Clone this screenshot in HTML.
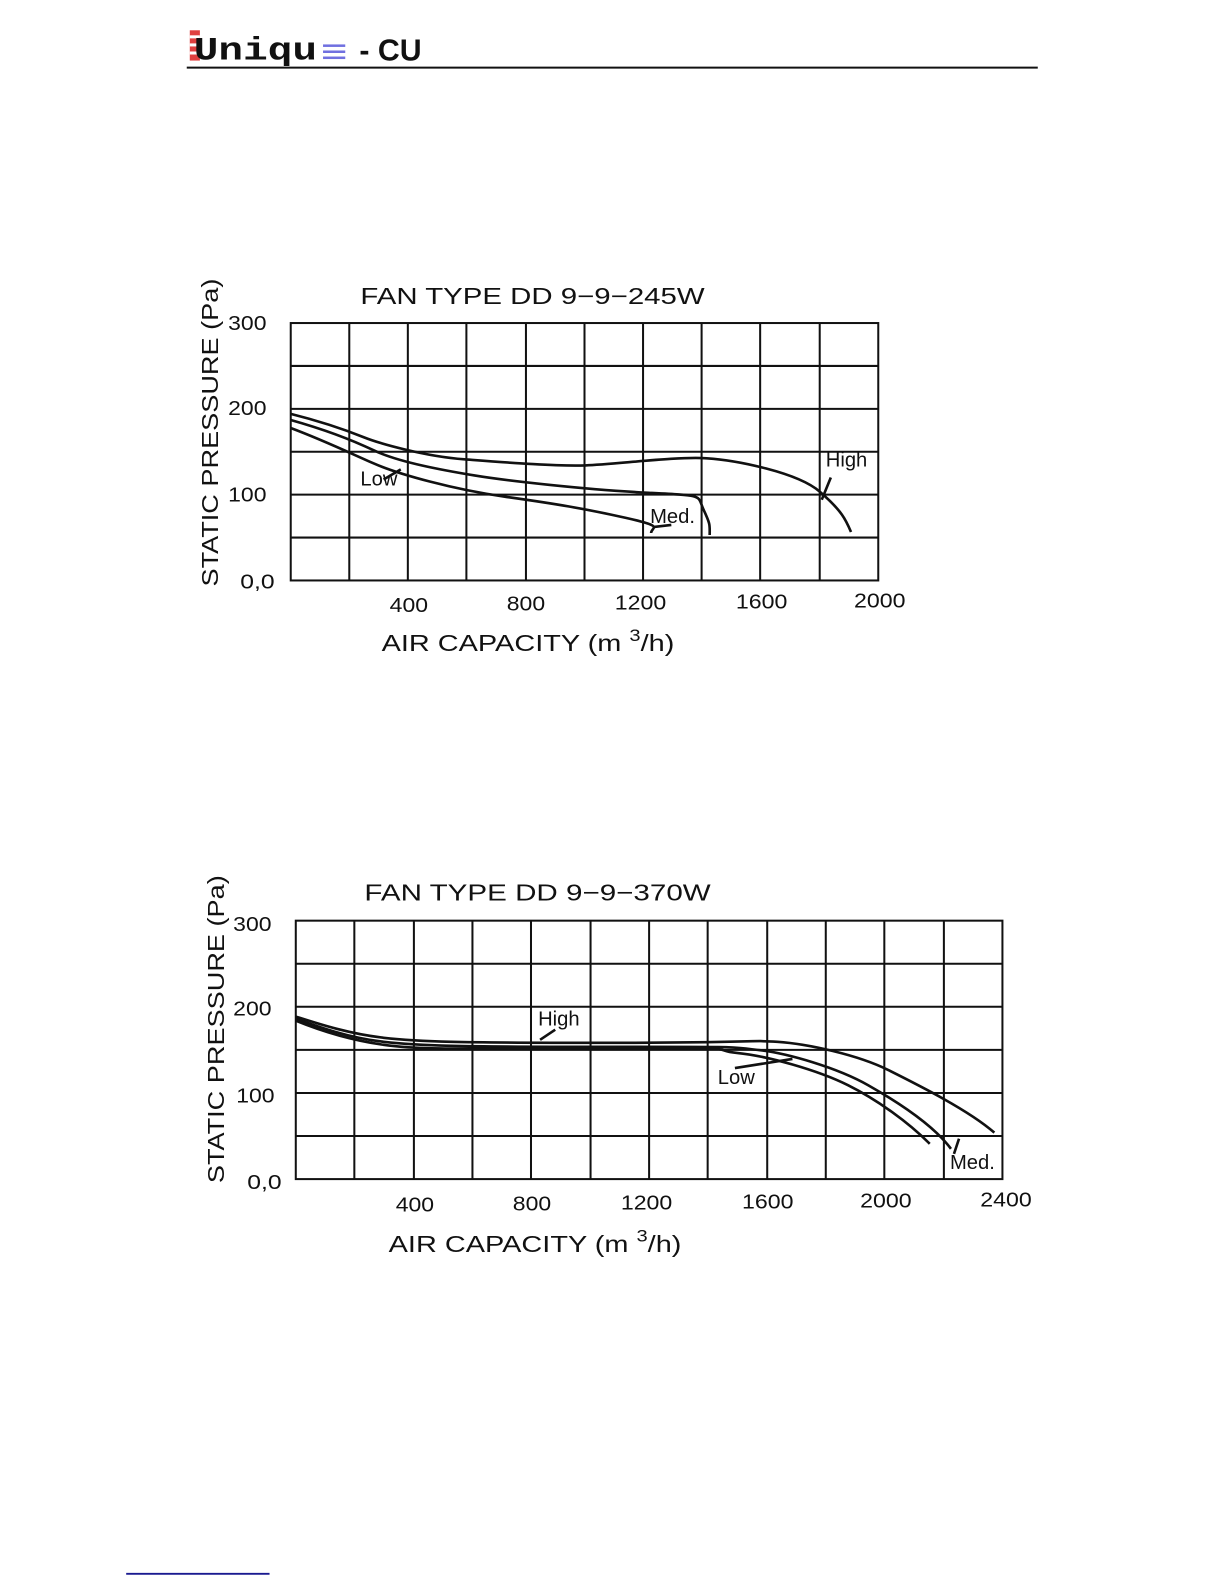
<!DOCTYPE html>
<html><head><meta charset="utf-8"><style>
html,body{margin:0;padding:0;background:#fff;}
svg{display:block;}
text{font-family:"Liberation Sans",sans-serif;fill:#111;}
</style></head><body>
<svg width="1224" height="1584" viewBox="0 0 1224 1584" xmlns="http://www.w3.org/2000/svg">
<g transform="scale(1.0095)">
<!-- header -->
<g>
<rect x="188" y="30" width="10" height="30" fill="#e04040"/>
<rect x="188" y="35" width="10" height="3" fill="#fff"/>
<rect x="188" y="43" width="10" height="3" fill="#fff"/>
<rect x="188" y="51" width="10" height="3" fill="#fff"/>
<text x="192" y="59" font-size="32" font-weight="bold" textLength="122" lengthAdjust="spacingAndGlyphs" style="font-family:'Liberation Mono',monospace">Uniqu</text>
<rect x="320" y="44" width="22" height="2.5" fill="#7070e0"/>
<rect x="320" y="50" width="22" height="2.5" fill="#7070e0"/>
<rect x="320" y="56" width="22" height="2.5" fill="#7070e0"/>
<text x="356" y="60" font-size="30" font-weight="bold">- CU</text>
<line x1="185" y1="67" x2="1028" y2="67" stroke="#111" stroke-width="2"/>
<line x1="125" y1="1559" x2="267" y2="1559" stroke="#1a1a90" stroke-width="1.8"/>
</g>

<!-- chart 1 -->
<g stroke="#111" stroke-width="2" fill="none">
<rect x="288" y="320" width="582" height="255"/>
<path d="M346 320V575M404 320V575M462 320V575M521 320V575M579 320V575M637 320V575M695 320V575M753 320V575M812 320V575"/>
<path d="M288 362.5H870M288 405H870M288 447.5H870M288 490H870M288 532.5H870"/>
<g stroke-width="2.6">
<path d="M288 410 C320 418 345 427 360 433 S420 452 460 455 S550 462 580 461 S670 452 700 454 S790 468 812 487 S838 515 843 527"/>
<path d="M288 416 C320 425 345 434 370 446 S440 466 470 471 S580 485 640 488 S690 490 697 505 S703 520 703 530"/>
<path d="M288 424 C320 436 345 448 370 459 S450 485 500 492 S580 504 620 513 S645 522 645 528"/>
<path d="M380 475 L397 465 M823 473 L814 495 M648 522 L665 520"/>
</g>
</g>
<g font-size="20">
<text x="357" y="301" font-size="23" textLength="341" lengthAdjust="spacingAndGlyphs">FAN  TYPE  DD  9−9−245W</text>
<text x="226" y="327" textLength="38" lengthAdjust="spacingAndGlyphs">300</text>
<text x="226" y="411" textLength="38" lengthAdjust="spacingAndGlyphs">200</text>
<text x="226" y="497" textLength="38" lengthAdjust="spacingAndGlyphs">100</text>
<text x="238" y="583" textLength="34" lengthAdjust="spacingAndGlyphs">0,0</text>
<text x="386" y="606" textLength="38" lengthAdjust="spacingAndGlyphs">400</text>
<text x="502" y="605" textLength="38" lengthAdjust="spacingAndGlyphs">800</text>
<text x="609" y="604" textLength="51" lengthAdjust="spacingAndGlyphs">1200</text>
<text x="729" y="603" textLength="51" lengthAdjust="spacingAndGlyphs">1600</text>
<text x="846" y="602" textLength="51" lengthAdjust="spacingAndGlyphs">2000</text>
<text x="378" y="645" font-size="23" textLength="290" lengthAdjust="spacingAndGlyphs">AIR  CAPACITY  (m <tspan dy="-10" font-size="16">3</tspan><tspan dy="10">/h)</tspan></text>
<text transform="translate(216,581) rotate(-90)" font-size="23" textLength="305" lengthAdjust="spacingAndGlyphs">STATIC  PRESSURE  (Pa)</text>
<text x="357" y="481">Low</text>
<text x="644" y="518">Med.</text>
<text x="818" y="462">High</text>
</g>

<!-- chart 2 -->
<g stroke="#111" stroke-width="2" fill="none">
<rect x="293" y="912" width="700" height="256"/>
<path d="M351 912V1168M410 912V1168M468 912V1168M526 912V1168M585 912V1168M643 912V1168M701 912V1168M760 912V1168M818 912V1168M876 912V1168M935 912V1168"/>
<path d="M293 954.7H993M293 997.3H993M293 1040H993M293 1082.7H993M293 1125.3H993"/>
<g stroke-width="2.6">
<path d="M293 1007 C315 1014 345 1024 380 1028 S450 1033 600 1033 S740 1030 770 1032 S850 1045 880 1060 S960 1100 985 1122"/>
<path d="M293 1009 C315 1017 345 1028 380 1032 S450 1037 600 1037 S720 1037 750 1040 S830 1058 860 1075 S925 1115 942 1138"/>
<path d="M293 1011 C315 1020 345 1030 380 1035 S450 1039 600 1038 S700 1040 730 1043 S810 1060 840 1075 S900 1112 921 1133"/>
<path d="M535 1030 L550 1020 M728 1058 L785 1049 M945 1143 L950 1128"/>
</g>
</g>
<g font-size="20">
<text x="361" y="892" font-size="23" textLength="343" lengthAdjust="spacingAndGlyphs">FAN  TYPE  DD  9−9−370W</text>
<text x="231" y="922" textLength="38" lengthAdjust="spacingAndGlyphs">300</text>
<text x="231" y="1006" textLength="38" lengthAdjust="spacingAndGlyphs">200</text>
<text x="234" y="1092" textLength="38" lengthAdjust="spacingAndGlyphs">100</text>
<text x="245" y="1178" textLength="34" lengthAdjust="spacingAndGlyphs">0,0</text>
<text x="392" y="1200" textLength="38" lengthAdjust="spacingAndGlyphs">400</text>
<text x="508" y="1199" textLength="38" lengthAdjust="spacingAndGlyphs">800</text>
<text x="615" y="1198" textLength="51" lengthAdjust="spacingAndGlyphs">1200</text>
<text x="735" y="1197" textLength="51" lengthAdjust="spacingAndGlyphs">1600</text>
<text x="852" y="1196" textLength="51" lengthAdjust="spacingAndGlyphs">2000</text>
<text x="971" y="1195" textLength="51" lengthAdjust="spacingAndGlyphs">2400</text>
<text x="385" y="1240" font-size="23" textLength="290" lengthAdjust="spacingAndGlyphs">AIR  CAPACITY  (m <tspan dy="-10" font-size="16">3</tspan><tspan dy="10">/h)</tspan></text>
<text transform="translate(222,1172) rotate(-90)" font-size="23" textLength="305" lengthAdjust="spacingAndGlyphs">STATIC  PRESSURE  (Pa)</text>
<text x="533" y="1016">High</text>
<text x="711" y="1074">Low</text>
<text x="941" y="1158">Med.</text>
</g>
</g>
</svg>
</body></html>
